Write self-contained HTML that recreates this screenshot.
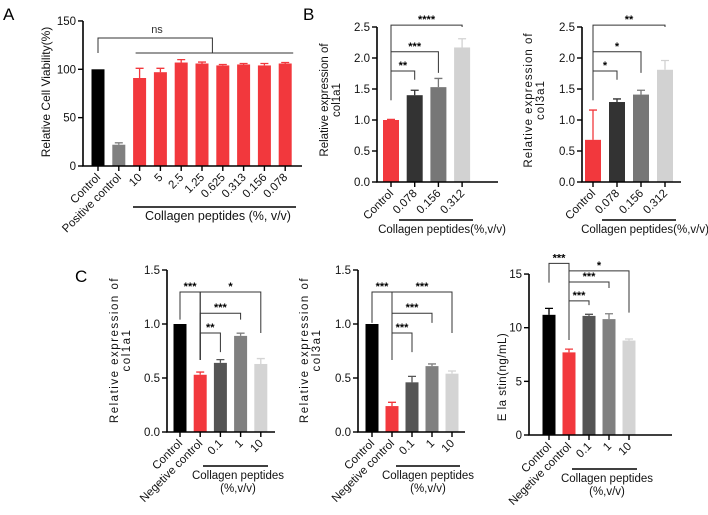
<!DOCTYPE html>
<html><head><meta charset="utf-8"><style>
html,body{margin:0;padding:0;background:#fff;}
svg{display:block;font-family:"Liberation Sans",Arial,sans-serif;}
</style></head><body>
<svg id="fig" width="708" height="515" viewBox="0 0 708 515" xmlns="http://www.w3.org/2000/svg">
<text x="3" y="20" font-size="17">A</text>
<text x="303" y="20" font-size="17">B</text>
<text x="75" y="282" font-size="17">C</text>
</svg>
<script>
// ---- Panel A data ----
const aCats = ["Control","Positive control","10","5","2.5","1.25","0.625","0.313","0.156","0.078"];
const aVals = [100,22,91,97,107,106,104,105,104,106];
const aErr  = [0,2,10,4,3,1.5,1,1,2,1];
const aTicks = [0,50,100,150];
// ---- Panel B col1a1 ----
const b1Cats = ["Control","0.078","0.156","0.312"];
const b1Vals = [1.0,1.40,1.53,2.17];
const b1Err  = [0.01,0.08,0.14,0.14];
const b1Sig  = [[0,3,2.53,1.32,2.50,"****"],[0,2,2.10,1.32,1.76,"***"],[0,1,1.79,1.32,1.65,"**"]];
// ---- Panel B col3a1 ----
const b2Cats = ["Control","0.078","0.156","0.312"];
const b2Vals = [0.68,1.29,1.41,1.81];
const b2Err  = [0.48,0.05,0.07,0.15];
const b2Sig  = [[0,3,2.53,1.32,2.50,"**"],[0,2,2.10,1.32,1.76,"*"],[0,1,1.79,1.32,1.65,"*"]];
const bTicks = [0,0.5,1.0,1.5,2.0,2.5];
// ---- Panel C ----
const cCats = ["Control","Negetive control","0.1","1","10"];
const c1Vals = [1.0,0.53,0.64,0.89,0.63];
const c1Err  = [0,0.025,0.03,0.025,0.05];
const c1Sig  = [[0,1,1.296,1.04,0.667,"***"],[1,4,1.296,0.667,0.917,"*"],[1,3,1.10,0.667,1.04,"***"],[1,2,0.917,0.667,0.74,"**"]];
const c2Vals = [1.0,0.24,0.46,0.61,0.54];
const c2Err  = [0,0.035,0.055,0.02,0.025];
const c2Sig  = [[0,1,1.296,1.01,0.667,"***"],[1,4,1.296,0.667,0.917,"***"],[1,3,1.10,0.667,1.01,"***"],[1,2,0.917,0.667,0.74,"***"]];
const c3Vals = [11.2,7.7,11.1,10.8,8.8];
const c3Err  = [0.6,0.3,0.15,0.5,0.15];
const c3Sig  = [[0,1,16.0,14.2,8.85,"***"],[1,4,15.3,8.85,11.4,"*"],[1,3,14.26,8.85,13.7,"***"],[1,2,12.5,8.85,12.1,"***"]];
const cTicks12 = [0,0.5,1.0,1.5];
const cTicks3 = [0,5,10,15];

const NS="http://www.w3.org/2000/svg";
const svg=document.getElementById('fig');
function mk(tag,attrs,parent){const e=document.createElementNS(NS,tag);for(const k in attrs)e.setAttribute(k,attrs[k]);(parent||svg).appendChild(e);return e;}

function panel(id,g,cats,vals,errs,colors,ticks,fmt,sig,title,group){
  const root=mk('g',{});
  
  
  const X=i=>g.first+i*g.step;
  const Y=v=>g.y0-v*g.ppu;
  // bars
  vals.forEach((v,i)=>{
    const r=mk('rect',{x:X(i)-g.w/2,y:Y(v),width:g.w,height:g.y0-Y(v),fill:colors[i]},root);
    
    
    if(errs[i]>0){
      const e=mk('path',{d:`M${X(i)} ${Y(v)}V${Y(v+errs[i])}M${X(i)-4} ${Y(v+errs[i])}H${X(i)+4}`,stroke:colors[i],'stroke-width':1.3,fill:'none'},root);
      
      
    }
  });
  // axes
  const ax=mk('path',{d:`M${g.ax} ${Y(ticks[ticks.length-1])}V${g.y0}H${g.xEnd}`,stroke:'#000','stroke-width':1.6,fill:'none'},root);
  
  
  ticks.forEach(t=>{
    mk('path',{d:`M${g.ax-5} ${Y(t)}H${g.ax}`,stroke:'#000','stroke-width':1.4},root);
    const tl=mk('text',{x:g.ax-7,y:Y(t)+4,'font-size':11.5,'text-anchor':'end',fill:'#111'},root);
    tl.textContent=fmt(t);
    
    
  });
  cats.forEach((c,i)=>{
    mk('path',{d:`M${X(i)} ${g.y0}V${g.y0+5}`,stroke:'#000','stroke-width':1.4},root);
    const t=mk('text',{x:X(i)+3,y:g.y0+12,'font-size':11.5,'text-anchor':'end',fill:'#111',transform:`rotate(-45 ${X(i)+3} ${g.y0+12})`},root);
    t.textContent=c;
    
    
  });
  // y title
  const yt=mk('text',{'font-size':g.tfs||11.5,'text-anchor':'middle',fill:'#111',transform:`translate(${g.tx},${g.ty}) rotate(-90)`,'letter-spacing':g.ls||0},root);
  
  
  title.forEach((ln,k)=>{const ts=mk('tspan',{x:0,dy:k?12:0},yt);ts.textContent=ln;});
  // significance brackets
  (sig||[]).forEach(s=>{
    const [i,j,yt2,yi,yj,lab]=s;
    const p=mk('path',{d:`M${X(i)} ${Y(yi)}V${Y(yt2)}H${X(j)}V${Y(yj)}`,stroke:'#333','stroke-width':1,fill:'none'},root);
    
    
    const t=mk('text',{x:(X(i)+X(j))/2,y:Y(yt2)-2,'font-size':11,'font-weight':'bold','text-anchor':'middle'},root);
    if(j-i>1&&i===1&&sig.length>3){t.setAttribute('x',(X(i)+X(j))/2);}
    t.textContent=lab;
    
    
  });
  // group label
  const gl=mk('path',{d:`M${group.x1} ${group.y}H${group.x2}`,stroke:'#000','stroke-width':1.6},root);
  
  
  group.lines.forEach((ln,k)=>{
    const t=mk('text',{x:group.cx,y:group.y+13+k*13,'font-size':group.fs||11.5,'text-anchor':'middle',fill:'#111'},root);
    t.textContent=ln;
    
    
  });
  return {X,Y,root};
}

const red="#f2383d";
// Panel A
const pa=panel('cell-viability',{ax:83,first:98,step:20.8,w:13,y0:166,ppu:0.967,xEnd:302,tx:50,ty:92,tfs:12},
  aCats,aVals,aErr,["#000","#808080",red,red,red,red,red,red,red,red],aTicks,t=>String(t),null,
  ["Relative Cell Viability(%)"],{x1:133,x2:296,y:207,cx:218,lines:["Collagen peptides (%, v/v)"],fs:12.5});
(function(){
  const X=pa.X,Y=pa.Y;
  const mid=(X(2)+X(9))/2;
  const p=mk('path',{d:`M${X(0)} ${Y(116.9)}V${Y(132.4)}H${mid}V${Y(116.9)}M${X(2)-4} ${Y(116.9)}H${X(9)+8}`,stroke:'#333','stroke-width':1,fill:'none'},pa.root);
  
  
  const t=mk('text',{x:157,y:33,'font-size':11,'text-anchor':'middle',fill:'#333'},pa.root);
  t.textContent='ns';
  
  
})();
const bcol=[red,"#333","#777","#d2d2d2"];
const f1=t=>t.toFixed(1);
panel('col1a1-b',{ax:377,first:391,step:23.7,w:16,y0:182,ppu:62,xEnd:498,tx:328,ty:100},
  b1Cats,b1Vals,b1Err,bcol,bTicks,f1,b1Sig,["Relative expression of","col1a1"],
  {x1:399,x2:473,y:220,cx:442,lines:["Collagen peptides(%,v/v)"]});
panel('col3a1-b',{ax:582,first:593,step:24,w:16,y0:182,ppu:62,xEnd:681,tx:532,ty:100,ls:1},
  b2Cats,b2Vals,b2Err,bcol,bTicks,f1,b2Sig,["Relative expression of","col3a1"],
  {x1:602,x2:676,y:220,cx:645,lines:["Collagen peptides(%,v/v)"]});
const ccol=["#000",red,"#555","#808080","#d4d4d4"];
panel('col1a1-c',{ax:167,first:180,step:20.2,w:13,y0:432,ppu:108,xEnd:275,tx:118,ty:350,ls:1.5},
  cCats,c1Vals,c1Err,ccol,cTicks12,f1,c1Sig,["Relative expression of","col1a1"],
  {x1:203,x2:268,y:466,cx:238,lines:["Collagen peptides","(%,v/v)"]});
panel('col3a1-c',{ax:358,first:372,step:20,w:13,y0:432,ppu:108,xEnd:465,tx:308,ty:350,ls:1.5},
  cCats,c2Vals,c2Err,ccol,cTicks12,f1,c2Sig,["Relative expression of","col3a1"],
  {x1:396,x2:460,y:466,cx:428,lines:["Collagen peptides","(%,v/v)"]});
panel('elastin-c',{ax:529,first:549,step:20,w:13,y0:435,ppu:10.73,xEnd:672,tx:506,ty:377,ls:0.5},
  cCats,c3Vals,c3Err,ccol,cTicks3,t=>String(t),c3Sig,["E la stin(ng/mL)"],
  {x1:572,x2:637,y:469,cx:607,lines:["Collagen peptides","(%,v/v)"]});
</script>
</body></html>
